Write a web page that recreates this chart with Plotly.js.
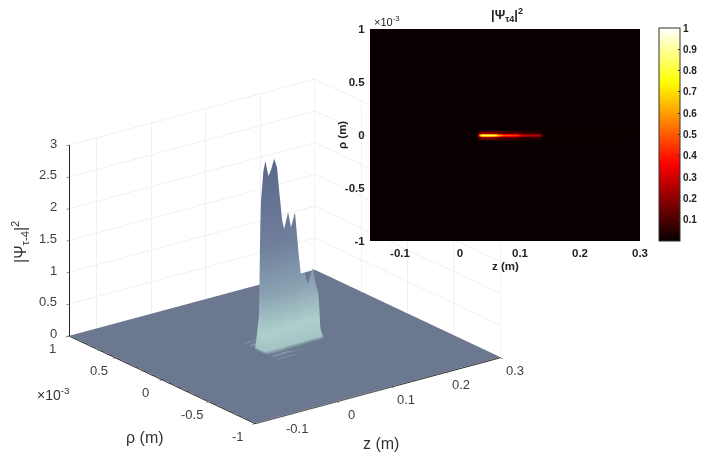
<!DOCTYPE html>
<html><head><meta charset="utf-8">
<script src="https://cdn.plot.ly/plotly-3.0.1.min.js"></script>
<style>
html,body{margin:0;padding:0;background:#fff}
#c{width:704px;height:463px}
.gl-container{z-index:0}
.main-svg{z-index:1}
</style></head><body><div id="c"></div><script>
const zPos=[-0.15,0.0285,0.031,0.0354,0.039,0.0445,0.05,0.055,0.0604,0.064,0.0698,0.0734,0.0806,0.086,0.0933,0.097,0.1005,0.104,0.111,0.1168,0.1258,0.1313,0.136,0.1385,0.3];
const peakHeight=[0,0,2.4,2.85,3.0,2.75,2.85,3.0,2.85,2.5,2.0,1.85,2.1,1.85,2.07,1.7,1.35,1.08,1.07,0.88,1.12,0.85,0.7,0.02,0];
const heatPeak=[0,0,0.5,0.8,0.85,0.85,0.83,0.8,0.74,0.62,0.52,0.48,0.48,0.45,0.45,0.4,0.34,0.27,0.27,0.25,0.27,0.23,0.1,0.01,0];
const rhoPosMilli=[-1,-0.3,-0.21,-0.18,-0.15,-0.12,-0.09,-0.06,-0.02,-0.01,0,0.01,0.02,0.06,0.09,0.12,0.15,0.18,0.21,0.3,1];
const crossShape=[0,0,0,0.012,0,0.015,0,0.02,0.25,0.75,1,0.75,0.25,0.02,0,0.015,0,0.012,0,0,0];
const heatCross=[0,0,0,0,0,0,0,0,0.25,0.75,1,0.75,0.25,0,0,0,0,0,0,0,0];
const rhoPos=rhoPosMilli.map(r=>r*1e-3);
const zTicks=[-0.1,0,0.1,0.2,0.3];
const rhoTicks=[-1,-0.5,0,0.5,1];
const heightTicks=[0,0.5,1,1.5,2,2.5,3];
const surfaceZ=crossShape.map(c=>peakHeight.map(p=>p*c));
const heatZ=heatCross.map(c=>heatPeak.map(p=>p*c));
const family='Liberation Sans, Arial, sans-serif';
const font3d={family:family,size:13,color:'#404040'};
const axis3d={showbackground:false,showspikes:false,zeroline:false,showline:true,linecolor:'#262626',linewidth:2,showticklabels:false,
  gridcolor:'#e4e4e4',gridwidth:1,ticks:'outside',ticklen:4,tickcolor:'#404040',title:{text:''}};
const bold={family:family,size:11.5,color:'#222',weight:700};
const txt={family:family,size:16,color:'#333'};
function note(text,x,y,f,extra){return Object.assign({text:text,x:x/704,y:1-y/463,xref:'paper',yref:'paper',showarrow:false,font:f,xanchor:'center',yanchor:'middle'},extra||{});}
function sceneNote(text,x,y,z,dx,dy,anchor){return {text:String(text),x:x,y:y,z:z,showarrow:false,font:font3d,xanchor:anchor,yanchor:'middle',xshift:dx,yshift:dy};}
const sceneNotes=[].concat(
  zTicks.map(t=>sceneNote(t,t,-1e-3,0,15,-13,'center')),
  rhoTicks.map(t=>sceneNote(t,-0.15,t*1e-3,0,-17,-13,'center')),
  heightTicks.map(t=>sceneNote(t,-0.15,1e-3,t,-11,2,'right'))
);
const data=[
 {type:'surface',x:zPos,y:rhoPos,z:surfaceZ,showscale:false,hoverinfo:'skip',cmin:0,cmax:3,
  colorscale:[[0,'#6b788f'],[0.002,'#6b788f'],[0.02,'#a3c4c4'],[0.1,'#aed0cc'],[0.3,'#8aa2b2'],[0.55,'#70809c'],[1,'#5a678b']],
  lighting:{ambient:1,diffuse:0.15,specular:0,roughness:1,fresnel:0},lightposition:{x:-1000,y:-3000,z:2000},
  contours:{x:{highlight:false},y:{highlight:false},z:{highlight:false}}},
 {type:'heatmap',x:zPos,y:rhoPos,z:heatZ,xaxis:'x',yaxis:'y',zsmooth:'best',zmin:0,zmax:1,hoverinfo:'skip',
  colorscale:[[0,'#080000'],[0.365,'#ff0000'],[0.746,'#ffff00'],[1,'#ffffff']],
  colorbar:{x:659/704,xanchor:'left',xpad:0,ypad:0,thickness:21,thicknessmode:'pixels',len:213/463,lenmode:'fraction',y:222/463,yanchor:'bottom',
    tickvals:[0.1,0.2,0.3,0.4,0.5,0.6,0.7,0.8,0.9,1],ticks:'inside',ticklen:2,tickcolor:'#333',tickfont:{family:family,size:10,color:'#222',weight:700},outlinecolor:'#333',outlinewidth:1}}
];
const layout={width:704,height:463,margin:{l:0,r:0,t:0,b:0},paper_bgcolor:'rgba(0,0,0,0)',plot_bgcolor:'#080000',showlegend:false,
 scene:{domain:{x:[0,570/704],y:[0,1]},aspectmode:'manual',aspectratio:{x:1.328,y:1.33,z:0.884},
  camera:{projection:{type:'orthographic'},eye:{x:-0.665,y:-0.88,z:0.512},center:{x:0,y:0,z:0.092},up:{x:0,y:0,z:1}},
  xaxis:Object.assign({},axis3d,{range:[-0.15,0.3],tickvals:zTicks}),
  yaxis:Object.assign({},axis3d,{range:[-1e-3,1e-3],tickvals:rhoTicks.map(r=>r*1e-3)}),
  zaxis:Object.assign({},axis3d,{range:[-0.01,3],tickvals:heightTicks}),
  annotations:sceneNotes},
 xaxis:{domain:[370/704,640/704],range:[-0.15,0.3],tickvals:zTicks,ticktext:zTicks.map(String),tickfont:bold,ticks:'outside',ticklen:1,tickcolor:'rgba(0,0,0,0)',showgrid:false,zeroline:false,showline:false},
 yaxis:{domain:[222/463,434/463],range:[-1e-3,1e-3],tickvals:rhoTicks.map(r=>r*1e-3),ticktext:rhoTicks.map(String),tickfont:bold,ticks:'outside',ticklen:2,tickcolor:'rgba(0,0,0,0)',showgrid:false,zeroline:false,showline:false},
 annotations:[
  note('|Ψ<sub>τ-4</sub>|<sup>2</sup>',20,242,txt,{textangle:-90}),
  note('ρ (m)',145,437,txt),
  note('z (m)',381,443,txt),
  note('×10<sup>-3</sup>',53,394,{family:family,size:14,color:'#333'}),
  note('|Ψ<sub>τ4</sub>|<sup>2</sup>',507,15,{family:family,size:13,color:'#222',weight:700}),
  note('×10<sup>-3</sup>',387,21,{family:family,size:11,color:'#222'}),
  note('z (m)',505,266,bold),
  note('ρ (m)',342,135,bold,{textangle:-90})
 ]};
Plotly.newPlot('c',data,layout,{displayModeBar:false});
</script></body></html>
